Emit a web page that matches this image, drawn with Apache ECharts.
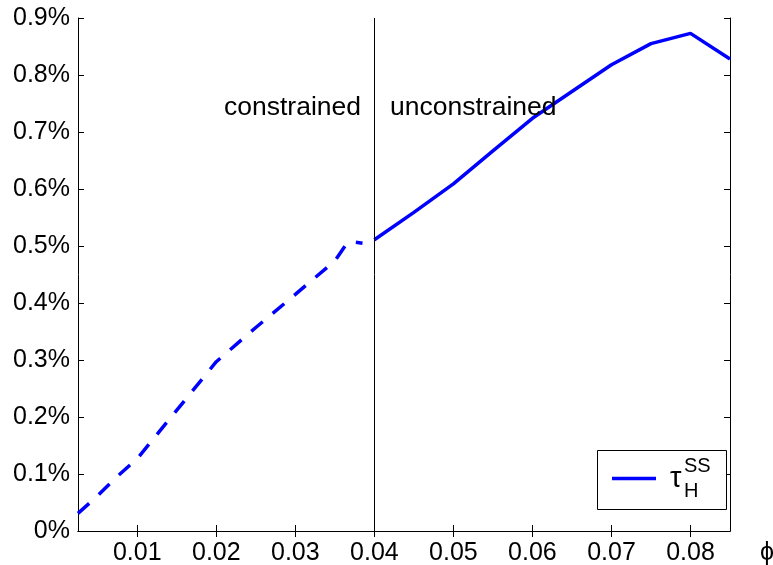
<!DOCTYPE html>
<html>
<head>
<meta charset="utf-8">
<script src="https://cdn.jsdelivr.net/npm/echarts@6/dist/echarts.min.js"></script>
<style>
html,body{margin:0;padding:0;background:#fff;}
#c{width:773px;height:565px;}
</style>
</head>
<body>
<div id="c"></div>
<script>
// constrained region (dashed)
var dashX = [0.0025, 0.005, 0.0075, 0.01, 0.015, 0.02, 0.025, 0.03, 0.035, 0.0365, 0.037, 0.0385];
var dashY = [0.031, 0.062, 0.096, 0.127, 0.212, 0.297, 0.357, 0.415, 0.474, 0.504, 0.508, 0.505];
// unconstrained region (solid)
var solidX = [0.04, 0.045, 0.05, 0.055, 0.06, 0.065, 0.07, 0.075, 0.08, 0.085];
var solidY = [0.511, 0.559, 0.609, 0.667, 0.724, 0.771, 0.818, 0.855, 0.873, 0.828];
var xTicks = [0.01, 0.02, 0.03, 0.04, 0.05, 0.06, 0.07, 0.08];
var yTicks = [0, 0.1, 0.2, 0.3, 0.4, 0.5, 0.6, 0.7, 0.8, 0.9];
var boundaryX = 0.04;

function pairs(xs, ys){ return xs.map(function(x,i){ return [x, ys[i]]; }); }

var FONT = 'Liberation Sans, Arial, Helvetica, sans-serif';
var chart = echarts.init(document.getElementById('c'), null, {renderer:'canvas'});
var axisLine = {show:true, lineStyle:{color:'#000', width:1}};
var option = {
  animation:false,
  backgroundColor:'#fff',
  grid:{left:78, right:43, top:18, bottom:34, containLabel:false, outerBoundsMode:'none'},
  xAxis:[{
    type:'value', min:0.0025, max:0.085, position:'bottom',
    axisLine:axisLine,
    axisTick:{show:true, inside:true, length:6, customValues:xTicks, lineStyle:{color:'#000'}},
    axisLabel:{customValues:xTicks, formatter:function(v){return v.toFixed(2);}, fontSize:25, color:'#000', fontFamily:FONT, margin:10},
    splitLine:{show:false},
    name:'ϕ', nameLocation:'end', nameGap:30,
    nameTextStyle:{fontSize:25, color:'#000', fontFamily:FONT, verticalAlign:'top', padding:[10,0,0,0]}
  },{
    type:'value', min:0.0025, max:0.085, position:'top',
    axisLine:axisLine,
    axisTick:{show:true, inside:true, length:6, customValues:xTicks, lineStyle:{color:'#000'}},
    axisLabel:{show:false, customValues:xTicks},
    splitLine:{show:false}
  }],
  yAxis:[{
    type:'value', min:0, max:0.9, interval:0.1, position:'left',
    axisLine:axisLine,
    axisTick:{show:true, inside:true, length:6, lineStyle:{color:'#000'}},
    axisLabel:{formatter:function(v){ return (Math.abs(v)<1e-9 ? '0' : v.toFixed(1)) + '%'; }, fontSize:25, color:'#000', fontFamily:FONT, margin:8},
    splitLine:{show:false}
  },{
    type:'value', min:0, max:0.9, interval:0.1, position:'right',
    axisLine:axisLine,
    axisTick:{show:true, inside:true, length:6, lineStyle:{color:'#000'}},
    axisLabel:{show:false},
    splitLine:{show:false}
  }],
  legend:{
    show:true, data:['tauH'], left:612, top:464, padding:0,
    itemWidth:44, itemHeight:3.5, icon:'rect',
    formatter:function(){ return 'τ'; },
    textStyle:{fontSize:29, color:'#000', fontFamily:FONT, padding:[0,0,0,9]},
    z:10
  },
  graphic:[
    {type:'rect', left:597, top:450, z:1, shape:{width:129, height:59}, style:{fill:'#fff', stroke:'#000', lineWidth:1}},
    {type:'text', left:684, top:456, z:20, style:{text:'SS', fontSize:20, fill:'#000', fontFamily:FONT}},
    {type:'text', left:684, top:481, z:20, style:{text:'H', fontSize:20, fill:'#000', fontFamily:FONT}},
    {type:'text', right:773-361, top:94, z:20, style:{text:'constrained', fontSize:26.5, fill:'#000', fontFamily:FONT, textAlign:'right'}},
    {type:'text', left:390, top:94, z:20, style:{text:'unconstrained', fontSize:26.5, fill:'#000', fontFamily:FONT}}
  ],
  series:[{
    name:'constrained', type:'line', data:pairs(dashX, dashY),
    showSymbol:false, symbol:'none', color:'#0000ff',
    lineStyle:{color:'#0000ff', width:3.5, type:[15,13]}, z:3
  },{
    name:'tauH', type:'line', data:pairs(solidX, solidY),
    showSymbol:false, symbol:'none', color:'#0000ff',
    lineStyle:{color:'#0000ff', width:3.5, type:'solid'}, z:3,
    markLine:{silent:true, symbol:['none','none'], label:{show:false},
      lineStyle:{color:'#000', width:1, type:'solid'},
      data:[{xAxis:boundaryX}]}
  }]
};
chart.setOption(option);
</script>
</body>
</html>
